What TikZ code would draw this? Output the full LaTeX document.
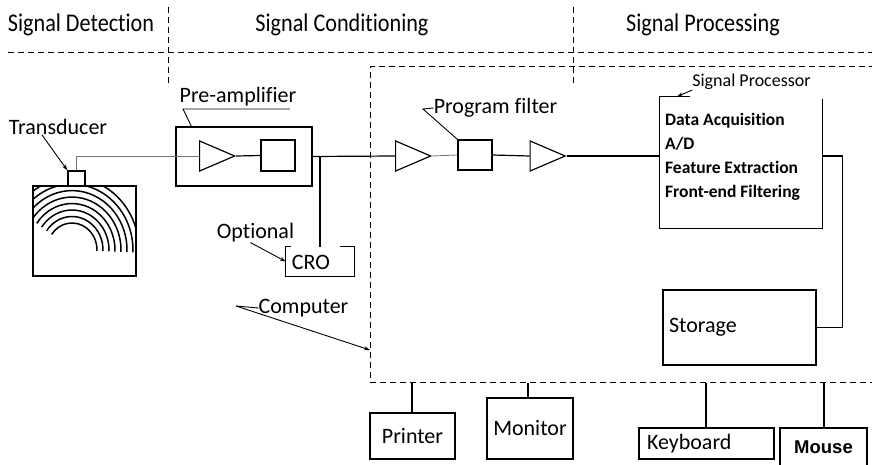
\documentclass[tikz,border=0pt]{standalone}
\usepackage{fontspec}
\setmainfont{Carlito}[Ligatures=NoCommon]
\newfontfamily\headfont{Carlito}[FakeStretch=0.87, Ligatures=NoCommon]
\newfontfamily\mousefont{Liberation Sans}
\usetikzlibrary{shapes.geometric, arrows.meta}

\tikzset{
  box/.style={draw, line width=1.2pt, inner sep=0pt},
  amp/.style={isosceles triangle, isosceles triangle stretches, draw, line width=1.2pt,
    inner sep=0pt, minimum width=30pt, minimum height=35pt},
  wire/.style={line width=1.2pt},
  thinwire/.style={line width=0.8pt, black!55},
  sect/.style={dash pattern=on 6pt off 4pt, line width=0.9pt},
  leader/.style={line width=0.9pt},
  pointer/.style={line width=0.9pt, -{Stealth[length=6pt, width=4pt]}},
  wave/.style={line width=1.5pt},
  lbl/.style={font=\fontsize{22}{26}\selectfont, inner sep=0pt},
  hdr/.style={font=\headfont\fontsize{25.5}{30}\selectfont, inner sep=0pt},
  sptext/.style={font=\bfseries\fontsize{17.5}{24}\selectfont, inner sep=0pt, align=left},
}

\begin{document}
\begin{tikzpicture}[x=1pt, y=-1pt]
  \useasboundingbox (0,0) rectangle (872,465);

  % section headings
  \node[hdr] (hdet) at (81,25) {Signal Detection};
  \node[hdr] (hcond) at (342,25) {Signal Conditioning};
  \node[hdr] (hproc) at (703,25) {Signal Processing};
  \draw[sect] (8,52) -- (872,52);
  \draw[sect] (168,7) -- (168,87);
  \draw[sect] (573,7) -- (573,83);

  % computer outline, open to the right
  \node[box, dash pattern=on 6pt off 4pt, line width=1pt, minimum width=520pt, minimum height=315pt] (comp) at (630,224.5) {};

  % vessel with transducer
  \node[box, minimum width=103pt, minimum height=90pt] (vessel) at (84.5,231) {};
  \node[box, minimum width=17pt, minimum height=15pt] (probe) at (76.5,178.5) {};
  \begin{scope}
    \clip (vessel.north west) rectangle (vessel.south east);
    \foreach \r in {25,31,...,67}
      \draw[wave] (72,250) ++(215:{\r} and {1.08*\r}) arc[start angle=215, end angle=362, x radius=\r, y radius=1.08*\r];
  \end{scope}
  \node[lbl] (trl) at (58,127) {Transducer};
  \draw[pointer] ([xshift=-16pt]trl.south) -- (probe.north west);

  % pre-amplifier
  \node[box, minimum width=136pt, minimum height=59pt] (preamp) at (244,156.5) {};
  \node[amp] (pa1) at (209.5,156) {};
  \node[box, minimum width=34pt, minimum height=31pt] (pa2) at (278,155.5) {};
  \node[lbl] (pal) at (238,97) {Pre-amplifier};
  \coordinate (paul) at (183,109);
  \draw[leader] (290,109) -- (paul) -- ([xshift=16pt]preamp.north west);
  \draw[thinwire] (probe.north) |- (pa1.west);
  \draw[wire] (pa1.apex) -- (pa2.west);

  % CRO
  \node[minimum width=68pt, minimum height=29pt, inner sep=0pt] (cro) at (320,261.5) {};
  \draw[wire] ([xshift=5pt]cro.north west) -- (cro.north west) -- (cro.south west)
    -- (cro.south east) -- (cro.north east) -- ++(-14,0);
  \node[lbl] (crot) at (311,262) {CRO};
  \coordinate (tap) at (320,156.5);
  \draw[wire] (tap) -- (tap |- cro.north);
  \node[lbl] (opt) at (255.5,233) {Optional};
  \draw[pointer] ([xshift=-5pt]opt.south) -- (cro.west);

  % program filter chain
  \node[amp] (amp1) at (405.5,156) {};
  \node[box, minimum width=34pt, minimum height=30pt] (filt) at (475,155) {};
  \node[amp] (amp2) at (540,156) {};
  \draw[wire] (preamp.east) -- (amp1.west);
  \draw[thinwire] (amp1.apex) -- (filt.west);
  \draw[wire] (filt.east) -- (amp2.west);
  \node[lbl] (pfl) at (495.5,108) {Program filter};
  \coordinate (pfv) at (423,109);
  \draw[leader] (pfl.west) -- (pfv) -- (filt.north west);

  % signal processor, top left open
  \node[minimum width=162pt, minimum height=131pt, inner sep=0pt] (sp) at (741,162.5) {};
  \draw[wire] ([xshift=30pt]sp.north west) -- (sp.north west) -- (sp.south west)
    -- (sp.south east) -- ([yshift=-2pt]sp.north east);
  \node[sptext, anchor=west] (sptxt) at (665,157) {Data Acquisition\\A/D\\Feature Extraction\\Front-end Filtering};
  \node[font=\fontsize{18}{22}\selectfont, inner sep=0pt] (spl) at (751.5,82) {Signal Processor};
  \draw[pointer] (spl.south west) -- ([xshift=17pt]sp.north west);
  \draw[wire] (amp2.apex) -- (amp2.apex -| sp.west);

  % storage
  \node[box, minimum width=153pt, minimum height=75pt, text width=141pt, align=left,
    font=\fontsize{22}{26}\selectfont] (stor) at (739.5,327.5) {\raisebox{-5pt}{Storage}};
  \draw[wire] (sp.east |- amp2.apex) -- ++(20,0) |- (stor.east);

  % computer label
  \node[lbl] (cpl) at (303.5,308) {Computer};
  \coordinate (cpv) at (236,306);
  \coordinate (cpt) at (370,350);
  \draw[leader] (cpl.west) -- (cpv);
  \draw[pointer] (cpv) -- (cpt);

  % peripherals
  \node[box, minimum width=85pt, minimum height=46pt, font=\fontsize{22}{26}\selectfont] (prn) at (412.5,436) {\raisebox{-6pt}{Printer}};
  \node[box, minimum width=86pt, minimum height=61pt, font=\fontsize{22}{26}\selectfont] (mon) at (530,428.5) {\raisebox{-4pt}{Monitor}};
  \node[box, minimum width=135pt, minimum height=31pt, text width=119pt, align=left,
    font=\fontsize{22}{26}\selectfont] (kbd) at (706.5,443.5) {\raisebox{-4pt}{Keyboard}};
  \node[box, minimum width=87pt, minimum height=39pt, font=\mousefont\bfseries\fontsize{18.5}{22}\selectfont] (mouse) at (823.5,447.5) {Mouse};
  \foreach \p/\x in {prn/412, mon/528, kbd/706, mouse/824}
    \draw[wire] (\x,0 |- \p.north) -- (\x,0 |- comp.south);
\end{tikzpicture}
\end{document}
